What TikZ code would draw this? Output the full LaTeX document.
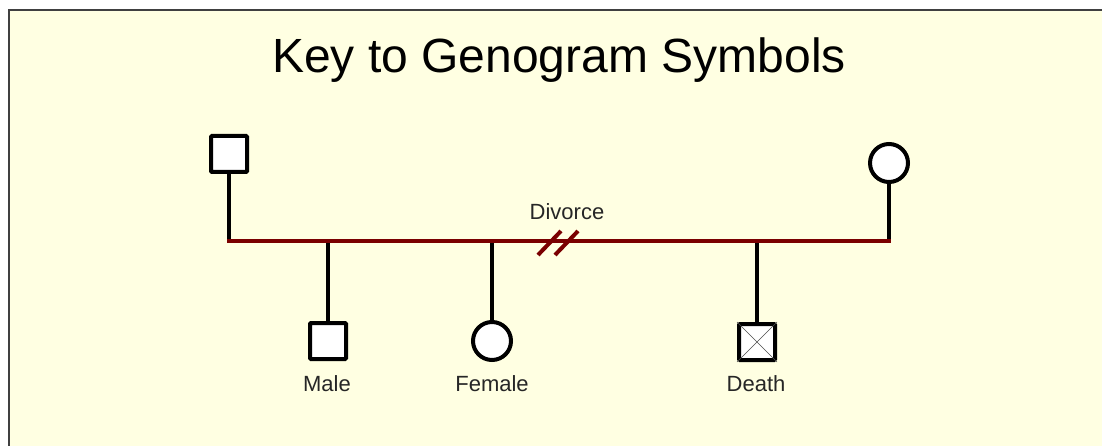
\documentclass[tikz,border=0pt]{standalone}
\usepackage{fontspec}
\setmainfont{Liberation Sans}
\definecolor{paper}{RGB}{255,255,226}
\definecolor{frame}{RGB}{64,64,64}
\definecolor{bond}{RGB}{122,0,0}
\begin{document}
\begin{tikzpicture}[x=1pt,y=-1pt,
  male/.style={draw=black,fill=white,line width=4pt,rounded corners=1pt,minimum size=36pt,inner sep=0pt},
  female/.style={draw=black,fill=white,line width=4pt,circle,minimum size=38pt,inner sep=0pt},
  tie/.style={line width=4pt,black},
  marriage/.style={line width=4.5pt,bond},
  lbl/.style={font=\fontsize{22}{24}\selectfont,text=black!85,anchor=base,inner sep=0pt}
]
\useasboundingbox (0,0) rectangle (1102,446);
% paper and its frame
\fill[paper] (9,10) rectangle (1102,446);
\draw[frame,line width=2pt] (9,446) -- (9,10) -- (1102,10);

\node[font=\fontsize{48}{52}\selectfont,anchor=base,inner sep=0pt] (title) at (559,73) {Key to Genogram Symbols};

% parents
\node[male] (father) at (229,154) {};
\node[female] (mother) at (889,163) {};

% marriage line and drop points
\coordinate (ml) at (229,241);
\coordinate (mr) at (889,241);
\coordinate (c1) at (328,241);
\coordinate (c2) at (492,241);
\coordinate (c3) at (757,241);

% children
\node[male] (son) at (328,341) {};
\node[female] (daughter) at (492,341) {};
\node[male] (dead) at (757,342) {};
\draw[black!70,line width=0.6pt] (dead.north west) -- (dead.south east)
                                 (dead.north east) -- (dead.south west);

\draw[tie] (father.south) -- (ml);
\draw[tie] (mother.south) -- (mr);
\draw[tie] (c1) -- (son.north);
\draw[tie] (c2) -- (daughter.north);
\draw[tie] (c3) -- (dead.north);
\draw[marriage,line cap=butt] ([xshift=-2pt]ml) -- ([xshift=2pt]mr);

% divorce slashes
\coordinate (s1a) at (538,255); \coordinate (s1b) at (561,231);
\coordinate (s2a) at (555,255); \coordinate (s2b) at (578,231);
\draw[bond,line width=4pt] (s1a) -- (s1b) (s2a) -- (s2b);

% labels
\node[lbl] (ldiv) at (567,220) {Divorce};
\node[lbl] (lmale) at (327,391) {Male};
\node[lbl] (lfem) at (492,391) {Female};
\node[lbl] (ldeath) at (756,391) {Death};
\end{tikzpicture}
\end{document}
